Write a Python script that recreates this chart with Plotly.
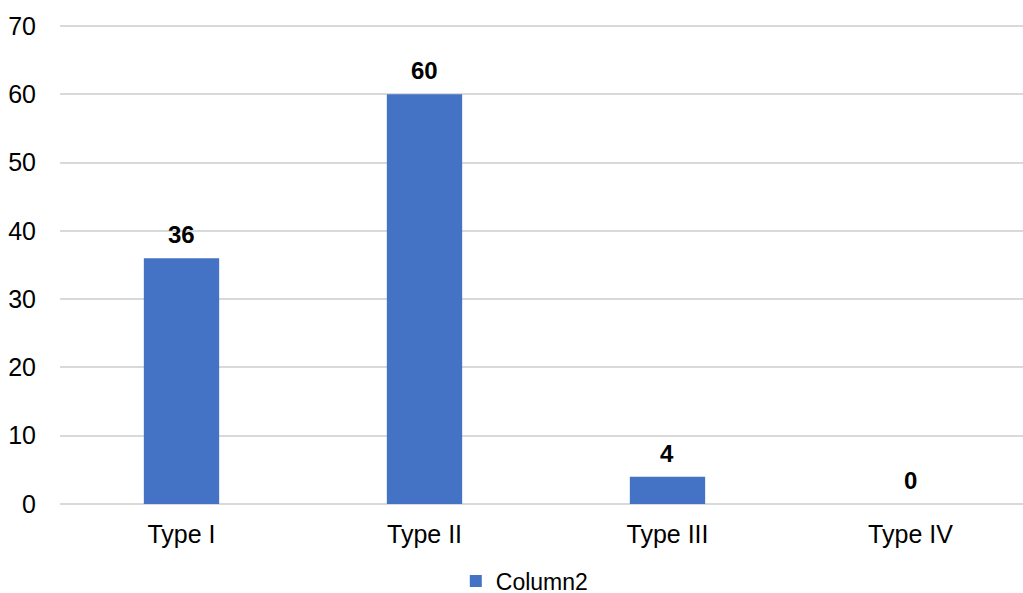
import plotly.graph_objects as go

categories = ["Type I", "Type II", "Type III", "Type IV"]
values = [36, 60, 4, 0]
series_name = "Column2"
y_ticks = [0, 10, 20, 30, 40, 50, 60, 70]

FONT = "Arial, 'Liberation Sans', sans-serif"
BAR_COLOR = "#4472C4"
GRID = "#D9D9D9"

fig = go.Figure()
fig.add_trace(go.Bar(
    x=list(range(len(categories))),
    y=values,
    name=series_name,
    marker=dict(color=BAR_COLOR, line=dict(width=0)),
    width=0.31,
    showlegend=True,
    hoverinfo="skip",
))

for i, v in enumerate(values):
    fig.add_annotation(
        x=i, y=v, xref="x", yref="y",
        text=f"<b>{v}</b>", showarrow=False,
        yanchor="bottom", yshift=8,
        font=dict(family=FONT, size=24, color="#000000"),
    )

fig.update_layout(
    width=1023, height=593,
    margin=dict(l=60, r=0, t=25, b=89),
    paper_bgcolor="white", plot_bgcolor="white",
    font=dict(family=FONT, size=25, color="#000000"),
    legend=dict(
        orientation="h",
        xref="container", yref="container",
        x=0.513, y=0.02, xanchor="center", yanchor="middle",
        font=dict(family=FONT, size=23, color="#000000"),
        itemwidth=30,
    ),
    xaxis=dict(
        range=[-0.5, 3.463],
        tickmode="array",
        tickvals=list(range(len(categories))),
        ticktext=categories,
        showgrid=False, zeroline=False, showline=False,
        ticks="outside", ticklen=8, tickcolor="rgba(0,0,0,0)",
        tickfont=dict(family=FONT, size=25, color="#000000"),
        fixedrange=True,
    ),
    yaxis=dict(
        range=[0, 70.15],
        tickmode="array", tickvals=y_ticks,
        showgrid=True, gridcolor=GRID, gridwidth=1.5,
        zeroline=True, zerolinecolor=GRID, zerolinewidth=1.5,
        showline=False,
        ticks="outside", ticklen=18, tickcolor="rgba(0,0,0,0)",
        tickfont=dict(family=FONT, size=25, color="#000000"),
        fixedrange=True,
    ),
)

fig.write_html(
    "out.html",
    config={"displayModeBar": False},
    post_script="document.body.style.margin='0';document.body.style.overflow='hidden';",
)
